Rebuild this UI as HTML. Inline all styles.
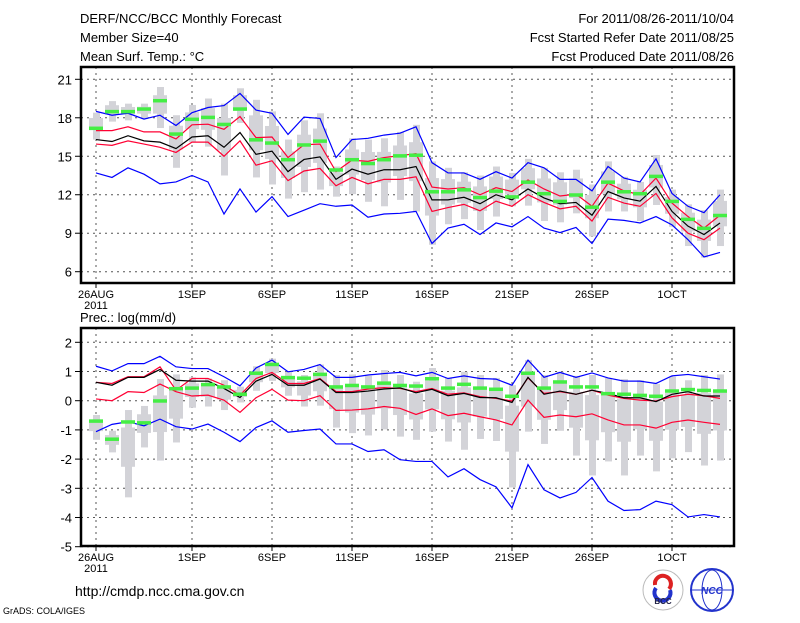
<!DOCTYPE html>
<html><head><meta charset="utf-8"><style>
body{margin:0;background:#fff;}
svg text{font-family:"Liberation Sans",sans-serif;fill:#000;}
</style></head><body>
<svg id="chart" width="800" height="618" xmlns="http://www.w3.org/2000/svg">
<rect width="800" height="618" fill="#fff"/>
<g font-size="13">
<text x="80" y="23">DERF/NCC/BCC Monthly Forecast</text>
<text x="80" y="42">Member Size=40</text>
<text x="80" y="61">Mean Surf. Temp.: °C</text>
<text x="734" y="23" text-anchor="end">For 2011/08/26-2011/10/04</text>
<text x="734" y="42" text-anchor="end">Fcst Started Refer Date 2011/08/25</text>
<text x="734" y="61" text-anchor="end">Fcst Produced Date 2011/08/26</text>
<text x="80" y="322">Prec.: log(mm/d)</text>
<text x="75" y="596" font-size="14">http://cmdp.ncc.cma.gov.cn</text>
<text x="3" y="614" font-size="9">GrADS: COLA/IGES</text>
</g>
<g>
<circle cx="663" cy="590" r="20" fill="#fff" stroke="#bbb"/>
<path d="M655 585 a8 8 0 1 1 14 4" fill="none" stroke="#d22" stroke-width="4"/>
<path d="M670 590 a8 8 0 1 1 -14 -2" fill="none" stroke="#23c" stroke-width="4"/>
<text x="663" y="604" font-size="8" text-anchor="middle" font-weight="bold" style="fill:#224">BCC</text>
</g>
<g>
<circle cx="712" cy="590" r="21" fill="#fff" stroke="#23c" stroke-width="2"/>
<ellipse cx="712" cy="590" rx="10" ry="20" fill="none" stroke="#23c"/>
<line x1="692" y1="590" x2="732" y2="590" stroke="#23c"/>
<text x="712" y="594" font-size="10" text-anchor="middle" font-style="italic" font-weight="bold" style="fill:#23c">NCC</text>
</g>
<g id="p1"></g><g id="p2"></g>
</svg>
<script>
const days = 40;
const xTickDays = [0,6,11,16,21,26,31,36];
const xTickLabels = ["26AUG","1SEP","6SEP","11SEP","16SEP","21SEP","26SEP","1OCT"];
const tTicks = [6,9,12,15,18,21];
const tMax = [18.5,18.2,18.35,17.9,18.2,17.4,18.4,18.8,18.95,19.9,18.6,18.35,16.7,18.05,17.95,14.9,16.3,16.4,16.65,16.8,17.3,14.5,13.7,13.7,13.2,13.8,13.3,14.5,14.1,13.2,13.2,12.3,14.2,13.3,13.0,14.8,12.1,11.1,10.6,12.0];
const tUp = [17.0,17.0,17.3,16.9,16.9,16.35,17.45,17.5,17.1,18.1,16.45,16.5,14.9,15.9,15.95,13.8,14.7,14.6,14.9,15.05,15.2,12.6,12.45,12.55,12.0,12.55,12.25,13.15,12.45,11.9,12.05,11.1,12.9,12.3,12.0,13.3,11.35,10.3,9.4,10.4];
const tMean = [16.3,16.15,16.6,16.2,16.1,15.6,16.5,16.6,15.7,16.85,15.15,15.4,13.8,14.75,14.95,13.2,14.0,13.6,13.95,13.95,14.2,11.6,11.6,11.8,11.3,12.0,11.6,12.45,11.75,11.3,11.4,10.4,12.25,11.75,11.5,12.65,10.7,9.55,8.9,9.8];
const tLo = [15.95,15.85,16.2,15.95,15.7,15.3,16.1,16.1,15.0,16.2,14.3,14.65,13.1,13.85,14.05,12.7,13.35,12.85,13.2,13.2,13.4,10.7,11.0,11.25,10.75,11.5,11.1,12.0,11.4,10.9,11.1,9.95,11.8,11.35,11.1,12.1,10.2,9.0,8.5,9.4];
const tMin = [13.7,13.35,14.1,13.6,12.85,13.0,13.5,13.0,10.5,12.45,10.65,11.85,10.3,10.8,11.3,11.1,11.2,10.25,10.5,10.55,10.7,8.2,9.4,9.7,8.9,9.8,9.5,10.3,9.4,9.05,9.45,8.2,10.1,10.0,9.8,10.3,9.65,8.5,7.15,7.5];
const tObs = [17.2,18.5,18.5,18.7,19.35,16.75,17.9,18.05,17.5,18.7,16.3,16.05,14.75,15.9,16.2,13.95,14.75,14.45,14.75,15.05,15.1,12.25,12.25,12.4,11.8,12.3,11.85,13.0,12.1,11.5,12.0,11.05,13.0,12.25,12.1,13.45,11.5,10.1,9.4,10.4];
const tBoxHi = [18.4,19.3,19.1,19.1,20.4,18.2,19.0,19.5,19.1,20.3,19.4,18.5,16.3,17.8,18.35,14.2,16.4,16.3,16.4,16.9,17.45,14.6,14.1,13.75,13.5,14.2,13.7,14.8,14.1,13.75,13.95,12.8,14.6,13.4,13.0,15.1,12.4,11.25,10.8,12.4];
const tBoxLo = [16.3,17.7,17.8,17.9,17.2,14.1,16.1,15.75,13.5,17.6,13.35,12.8,11.7,12.2,12.4,11.85,12.05,11.45,11.1,11.6,10.7,8.1,9.7,10.1,9.25,10.3,11.1,11.15,9.95,9.85,10.55,8.75,10.7,10.7,9.95,11.2,9.5,8.0,7.1,8.0];

const pTicks = [-5,-4,-3,-2,-1,0,1,2];
const pMax = [1.18,1.02,1.27,1.27,1.52,1.16,1.1,1.1,0.82,0.51,1.12,1.39,0.99,1.07,1.24,0.8,0.8,0.88,0.93,0.97,0.85,0.97,0.76,0.85,0.76,0.74,0.53,1.39,0.8,0.97,0.8,0.95,0.78,0.67,0.67,0.59,0.85,0.9,0.82,0.74];
const pUp = [0.63,0.59,0.82,0.82,1.16,0.36,0.76,0.76,0.53,0.19,0.76,0.97,0.59,0.59,0.76,0.31,0.31,0.4,0.45,0.42,0.31,0.42,0.22,0.27,0.14,0.08,-0.01,0.78,0.25,0.31,0.22,0.36,0.19,0.08,0.02,-0.01,0.14,0.22,0.17,0.08];
const pMean = [0.63,0.53,0.8,0.8,1.07,0.7,0.67,0.67,0.42,0.11,0.67,0.9,0.53,0.53,0.74,0.28,0.28,0.33,0.4,0.44,0.27,0.39,0.17,0.25,0.11,0.1,-0.06,0.8,0.22,0.33,0.22,0.36,0.25,0.1,0.1,-0.03,0.22,0.31,0.16,0.16];
const pLo = [0.06,0,0.31,0.28,0.57,0.31,0.16,0.19,0.02,-0.4,0.1,0.39,0.02,0,0.17,-0.33,-0.32,-0.28,-0.2,-0.26,-0.47,-0.28,-0.51,-0.43,-0.55,-0.66,-0.83,0.02,-0.57,-0.49,-0.55,-0.45,-0.66,-0.83,-0.83,-0.94,-0.74,-0.66,-0.74,-0.81];
const pMin = [-1.06,-0.81,-0.72,-0.86,-0.63,-0.89,-0.97,-0.8,-1.08,-1.4,-0.92,-0.69,-1.08,-1.02,-0.97,-1.48,-1.48,-1.74,-1.68,-2.02,-2.08,-2.08,-2.61,-2.33,-2.7,-2.95,-3.67,-2.19,-3.05,-3.33,-3.14,-2.63,-3.44,-3.76,-3.73,-3.44,-3.56,-3.98,-3.9,-3.98];
const pObs = [-0.69,-1.31,-0.72,-0.75,0,0.42,0.44,0.56,0.48,0.23,0.95,1.25,0.8,0.78,0.91,0.48,0.53,0.48,0.61,0.53,0.51,0.76,0.44,0.57,0.44,0.4,0.16,0.95,0.44,0.65,0.48,0.48,0.25,0.23,0.19,0.16,0.34,0.39,0.36,0.34];
const pBoxHi = [-0.49,-1.03,-0.32,-0.18,0.74,0.9,0.8,0.76,0.7,0.48,1.18,1.44,0.99,0.88,1.24,0.88,0.9,0.85,1.05,0.88,0.65,1.12,0.78,0.99,0.88,0.78,0.53,1.39,0.88,0.99,0.85,0.88,0.78,0.74,0.7,0.57,0.82,0.7,0.88,0.9];
const pBoxLo = [-1.34,-1.77,-3.31,-1.6,-2.05,-1.43,-0.24,-0.2,-0.32,-0.06,0.34,0.68,0.17,-0.2,-0.17,-0.92,-1.11,-1.19,-0.98,-1.23,-1.34,-1.06,-1.4,-1.68,-1.31,-1.38,-2.97,-1.06,-1.48,-1.03,-1.88,-2.56,-2.08,-2.56,-1.88,-2.42,-1.97,-1.76,-2.22,-2.05];

const NS="http://www.w3.org/2000/svg";
function mk(parent,tag,attrs){const e=document.createElementNS(NS,tag);for(const k in attrs)e.setAttribute(k,attrs[k]);parent.appendChild(e);return e;}
const X0=96, DX=16, L=81, R=734;
function xs(d){return X0+d*DX;}

function panel(g,top,bot,yv0,yp0,yv1,yp1,ticks,s,name){
  const ys=v=>yp0+(v-yv0)*(yp1-yp0)/(yv1-yv0);
  // grid
  ticks.forEach(t=>{const y=ys(t);
    const gl=mk(g,'line',{x1:L,x2:R,y1:y,y2:y,stroke:'#555','stroke-dasharray':'2,4','stroke-width':1});
    
    
    const tk=mk(g,'line',{x1:L-6,x2:L,y1:y,y2:y,stroke:'#000'});
    
    
    const tx=mk(g,'text',{x:L-9,y:y+5,'text-anchor':'end','font-size':13});
    tx.textContent=t;
    
    
  });
  xTickDays.forEach((d,i)=>{const x=xs(d);
    const gl=mk(g,'line',{x1:x,x2:x,y1:top,y2:bot,stroke:'#555','stroke-dasharray':'2,4'});
    
    
    const tk=mk(g,'line',{x1:x,x2:x,y1:bot,y2:bot+5,stroke:'#000'});
    
    
    const tx=mk(g,'text',{x:x,y:bot+15,'text-anchor':'middle','font-size':11});
    tx.textContent=xTickLabels[i];
    
    
  });
  const yr=mk(g,'text',{x:xs(0),y:bot+26,'text-anchor':'middle','font-size':11});
  yr.textContent='2011';
  
  
  // boxes
  for(let d=0;d<days;d++){
    const hi=ys(s.bh[d]),lo=ys(s.bl[d]),h=lo-hi;
    const b1=mk(g,'rect',{x:xs(d)-3,y:hi,width:7,height:h,fill:'#d3d3d8'});
    
    
    const b2=mk(g,'rect',{x:xs(d)-7,y:hi+h*0.2,width:14,height:h*0.45,fill:'#d3d3d8'});
    
    
  }
  const lines=[[s.max,'#0000ff','max'],[s.up,'#ff0033','upper'],[s.lo,'#ff0033','lower'],[s.min,'#0000ff','min'],[s.mean,'#000','mean']];
  lines.forEach(([arr,c,n])=>{
    const p=mk(g,'polyline',{points:arr.map((v,d)=>xs(d)+','+ys(v)).join(' '),fill:'none',stroke:c,'stroke-width':1.2});
    
    
  });
  for(let d=0;d<days;d++){
    const r=mk(g,'rect',{x:xs(d)-7,y:ys(s.obs[d])-1.5,width:14,height:3.5,fill:'#44ee44'});
    
    
  }
  const f=mk(g,'rect',{x:L,y:top,width:R-L,height:bot-top,fill:'none',stroke:'#000','stroke-width':2.5});
  
  
}
panel(document.getElementById('p1'),67,283,6,271.7,21,79.3,tTicks,
  {max:tMax,up:tUp,mean:tMean,lo:tLo,min:tMin,obs:tObs,bh:tBoxHi,bl:tBoxLo},'temp');
panel(document.getElementById('p2'),328,546,0,400.7,2,342.3,pTicks,
  {max:pMax,up:pUp,mean:pMean,lo:pLo,min:pMin,obs:pObs,bh:pBoxHi,bl:pBoxLo},'prec');
</script>
</body></html>
